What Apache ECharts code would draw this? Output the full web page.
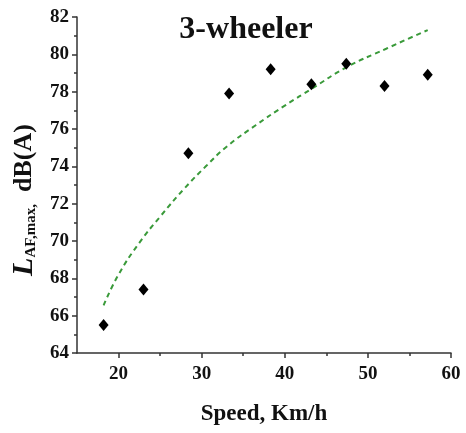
<!DOCTYPE html>
<html>
<head>
<meta charset="utf-8">
<script src="https://cdn.jsdelivr.net/npm/echarts@6/dist/echarts.min.js"></script>
<style>
  html, body { margin: 0; padding: 0; background: #fff; }
  #chart { width: 466px; height: 433px; }
</style>
</head>
<body>
<div id="chart"></div>
<script>
  "use strict";
  // measured points
  var speed = [18.2, 23.0, 28.4, 33.3, 38.3, 43.2, 47.4, 52.0, 57.2];
  var level = [65.5, 67.4, 74.7, 77.9, 79.2, 78.4, 79.5, 78.3, 78.9];
  // fitted trend line
  var fitX = [18.2, 20, 22.5, 25, 28, 30.5, 33, 36.5, 40, 43.4, 47.4, 52.2, 57.2];
  var fitY = [66.55, 68.2, 69.9, 71.3, 72.85, 74.0, 75.05, 76.2, 77.25, 78.2, 79.3, 80.3, 81.3];
  var xMajor = [20, 30, 40, 50, 60];
  var xMinor = [25, 35, 45, 55];

  var font = '"Liberation Serif", "DejaVu Serif", serif';
  var axisColor = '#333';

  function pairs(xs, ys) {
    return xs.map(function (x, i) { return [x, ys[i]]; });
  }

  var chart = echarts.init(document.getElementById('chart'));
  chart.setOption({
    animation: false,
    title: {
      text: '3-wheeler',
      left: 241,
      top: 9,
      textAlign: 'center',
      textStyle: { fontFamily: font, fontWeight: 'bold', fontSize: 32, color: '#111' }
    },
    grid: { left: 77, right: 15, top: 17, bottom: 80, outerBoundsMode: 'none', containLabel: false },
    xAxis: [{
      type: 'value',
      min: 15,
      max: 60,
      name: 'Speed, Km/h',
      nameLocation: 'middle',
      nameGap: 50,
      nameTextStyle: { fontFamily: font, fontWeight: 'bold', fontSize: 23, color: '#111' },
      splitLine: { show: false },
      axisLine: { lineStyle: { color: axisColor, width: 1.5 } },
      axisTick: { customValues: xMajor, length: 5, lineStyle: { color: axisColor, width: 1.5 } },
      axisLabel: { customValues: xMajor, margin: 12, fontFamily: font, fontWeight: 'bold', fontSize: 19, color: '#111' }
    }, {
      type: 'value',
      min: 15,
      max: 60,
      position: 'bottom',
      splitLine: { show: false },
      axisLine: { show: false },
      axisTick: { customValues: xMinor, length: 3, lineStyle: { color: axisColor, width: 1.5 } },
      axisLabel: { show: false }
    }],
    yAxis: {
      type: 'value',
      min: 64,
      max: 82,
      interval: 2,
      name: '{l|L}{s|AF,max,}{u|dB(A)}',
      nameLocation: 'middle',
      nameGap: 32,
      nameTextStyle: {
        padding: [0, 30, 0, 0],
        rich: {
          l: { fontFamily: font, fontWeight: 'bold', fontStyle: 'italic', fontSize: 30, color: '#111' },
          s: { fontFamily: font, fontWeight: 'bold', fontSize: 15, color: '#111', padding: [14, 0, 0, 0] },
          u: { fontFamily: font, fontWeight: 'bold', fontSize: 26, color: '#111', padding: [0, 0, 0, 12] }
        }
      },
      splitLine: { show: false },
      axisLine: { show: true, lineStyle: { color: axisColor, width: 1.5 } },
      axisTick: { show: true, length: 5, lineStyle: { color: axisColor, width: 1.5 } },
      minorTick: { show: true, splitNumber: 2, length: 3, lineStyle: { color: axisColor, width: 1.5 } },
      axisLabel: { margin: 8, fontFamily: font, fontWeight: 'bold', fontSize: 19, color: '#111' }
    },
    series: [{
      type: 'line',
      data: pairs(fitX, fitY),
      smooth: 0.5,
      showSymbol: false,
      lineStyle: { color: '#3a9a3a', width: 2, type: [5, 4] },
      z: 2
    }, {
      type: 'scatter',
      data: pairs(speed, level),
      symbol: 'diamond',
      symbolSize: [10, 12],
      itemStyle: { color: '#000', opacity: 1 },
      z: 3
    }]
  });
</script>
</body>
</html>
